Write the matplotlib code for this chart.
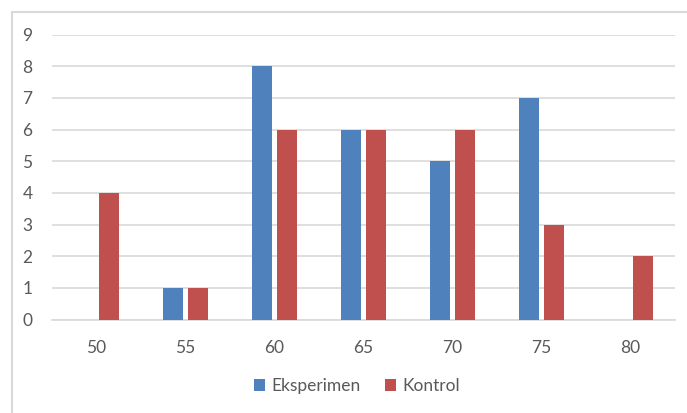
import matplotlib
matplotlib.use("Agg")
import matplotlib.pyplot as plt
from matplotlib.lines import Line2D
import numpy as np

categories = ["50", "55", "60", "65", "70", "75", "80"]
eksperimen = [0, 1, 8, 6, 5, 7, 0]
kontrol = [4, 1, 6, 6, 6, 3, 2]
yticks = [0, 1, 2, 3, 4, 5, 6, 7, 8, 9]

plt.rcParams['font.family'] = ['Lato', 'DejaVu Sans']
W, H = 687, 413
fig = plt.figure(figsize=(W / 100, H / 100), dpi=100)

# figure frame
fig.add_artist(Line2D([11.5 / W, 11.5 / W], [0, 1 - 12 / H], color="#d9d9d9", lw=1.5, transform=fig.transFigure))
fig.add_artist(Line2D([11.5 / W, 1], [1 - 12 / H, 1 - 12 / H], color="#d9d9d9", lw=1.5, transform=fig.transFigure))

left, right, top, bottom = 52, 675, 34.5, 319.5
ax = fig.add_axes([left / W, 1 - bottom / H, (right - left) / W, (bottom - top) / H])

x = np.arange(len(categories))
bw = 0.22
off = 0.14
ax.bar(x - off, eksperimen, bw, color="#4F81BD", label="Eksperimen", zorder=3)
ax.bar(x + off, kontrol, bw, color="#C0504D", label="Kontrol", zorder=3)

ax.set_xlim(-0.5, len(categories) - 0.5)
ax.set_ylim(0, 9)
ax.set_yticks(yticks)
ax.set_xticks(x)
ax.set_xticklabels(categories)
ax.yaxis.grid(True, color="#d9d9d9", lw=1.2, zorder=0)
ax.tick_params(axis="both", length=0, labelsize=12.5, colors="#595959")
ax.tick_params(axis="x", pad=15)
ax.tick_params(axis="y", pad=14)
for s in ["top", "right", "left"]:
    ax.spines[s].set_visible(False)
ax.spines["bottom"].set_color("#d9d9d9")
ax.spines["bottom"].set_linewidth(1.2)

leg = fig.legend(loc="center", bbox_to_anchor=(357 / W, 1 - 386 / H), ncol=2, frameon=False,
                 fontsize=12.5, handlelength=0.65, handleheight=0.65, handletextpad=0.35,
                 columnspacing=1.4)
for t in leg.get_texts():
    t.set_color("#595959")

fig.savefig("out.png", dpi=100)
